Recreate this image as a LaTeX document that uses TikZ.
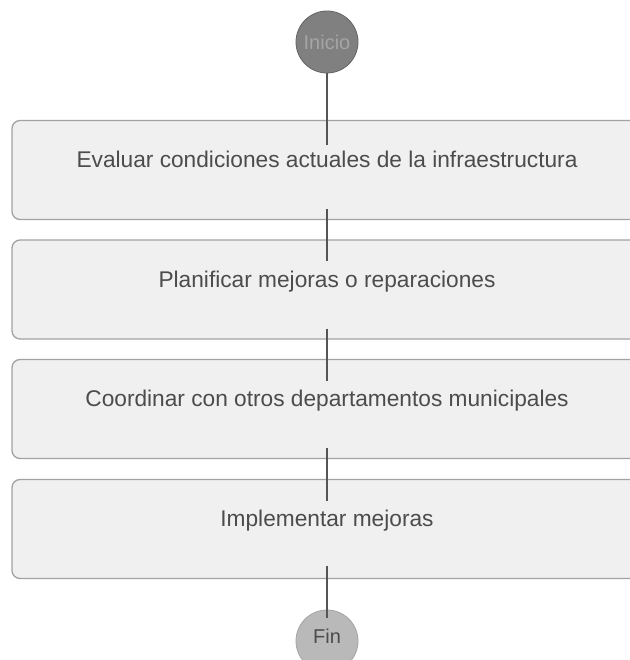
\documentclass[tikz,border=0pt]{standalone}
\usepackage{fontspec}
\setmainfont{Liberation Sans}
\begin{document}
\begin{tikzpicture}[x=1pt,y=-1pt,
  stepbox/.style={draw=boxline, line width=1.3pt, fill=boxfill, rounded corners=8pt,
    minimum width=630pt, minimum height=99pt, text=txt, font=\fontsize{22.7}{26}\selectfont,
    text height=16pt, text depth=21pt, inner sep=0pt},
  term/.style={circle, minimum size=62pt, inner sep=0pt, font=\fontsize{20}{24}\selectfont},
  conn/.style={draw=connc, line width=2.8pt}]
\definecolor{boxline}{HTML}{A2A2A2}
\definecolor{boxfill}{HTML}{F0F0F0}
\definecolor{txt}{HTML}{4C4C4C}
\definecolor{connc}{HTML}{555555}
\useasboundingbox (0,0) rectangle (629,660);
\fill[white] (0,0) rectangle (629,660);
\node[term, fill={rgb,255:red,128;green,128;blue,128}, draw={rgb,255:red,100;green,100;blue,100}, line width=0.8pt, text={rgb,255:red,165;green,165;blue,165}] (s) at (327,42) {Inicio};
\node[stepbox] (b1) at (327,170) {Evaluar condiciones actuales de la infraestructura};
\node[stepbox] (b2) at (327,289.5) {Planificar mejoras o reparaciones};
\node[stepbox] (b3) at (327,409) {Coordinar con otros departamentos municipales};
\node[stepbox] (b4) at (327,529) {Implementar mejoras};
\node[term, fill={rgb,255:red,185;green,185;blue,185}, draw={rgb,255:red,165;green,165;blue,165}, line width=0.8pt, text=txt, text height=14pt, text depth=10pt] (f) at (327,641) {Fin};
\draw[conn, shorten >=-25pt] (s) -- (b1);
\draw[conn, shorten <=-11pt, shorten >=-22pt] (b1) -- (b2);
\draw[conn, shorten <=-11pt, shorten >=-22pt] (b2) -- (b3);
\draw[conn, shorten <=-11pt, shorten >=-22pt] (b3) -- (b4);
\draw[conn, shorten <=-13pt, shorten >=-8pt] (b4) -- (f);
\end{tikzpicture}
\end{document}
